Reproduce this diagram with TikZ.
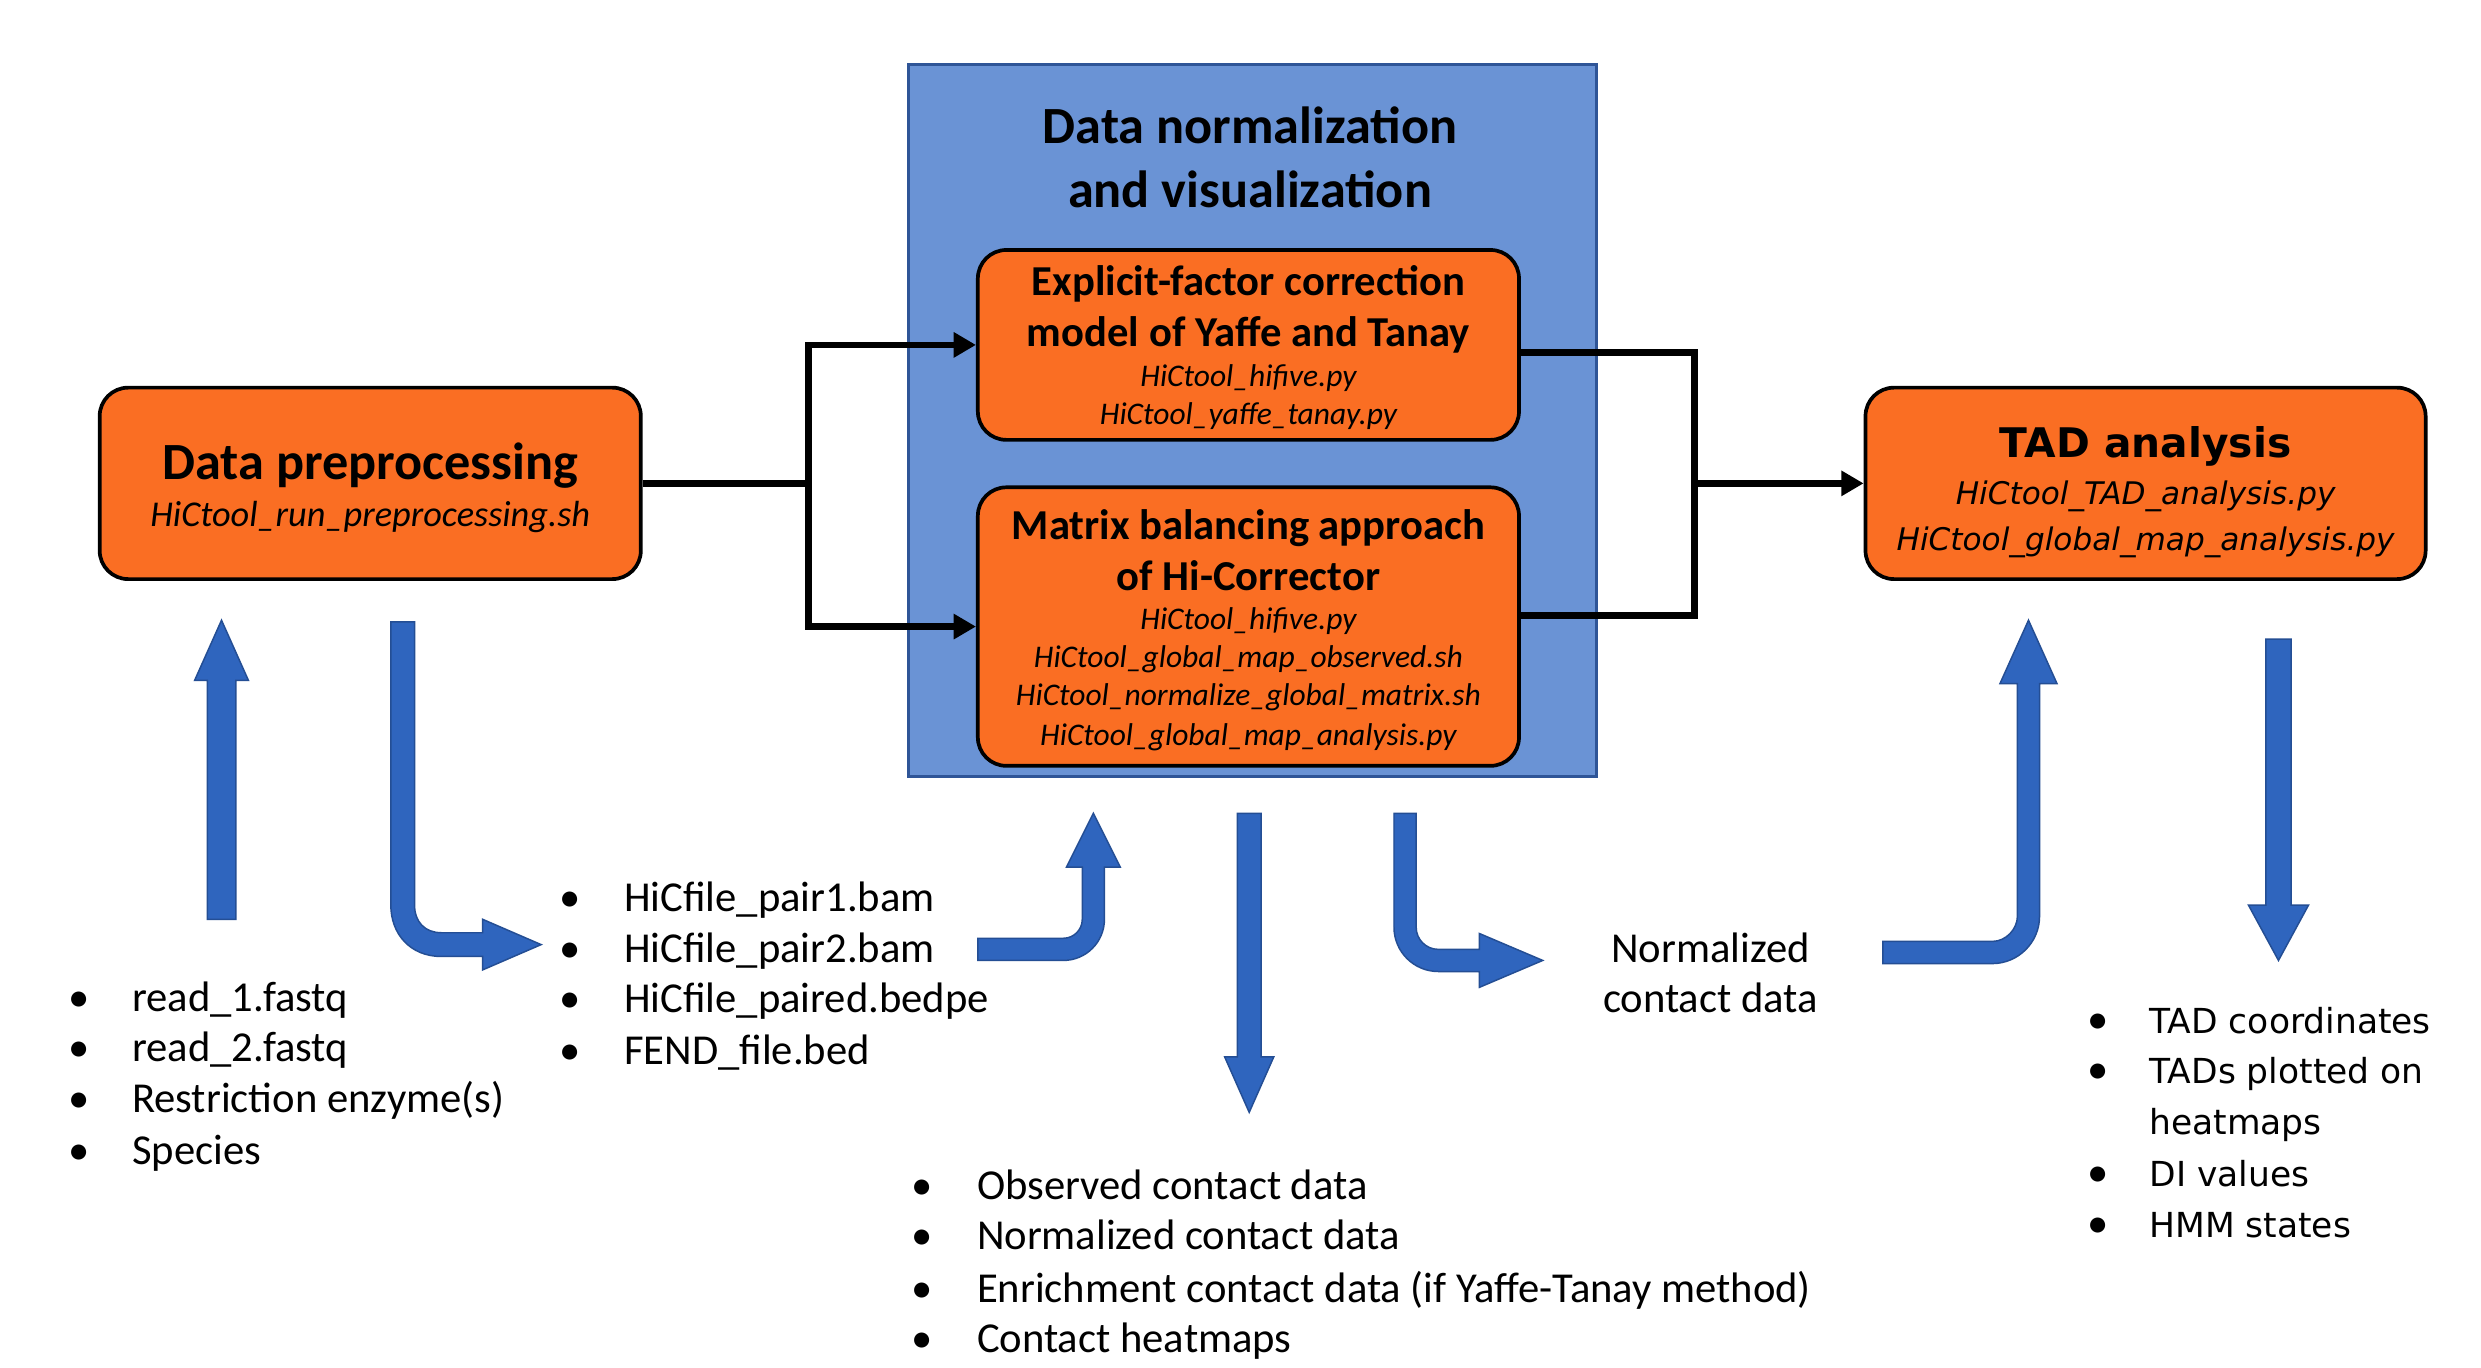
\documentclass[tikz,border=0pt]{standalone}
\usepackage{fontspec}
\setmainfont{Carlito}
\newfontfamily\dvsans{DejaVu Sans}
\usetikzlibrary{arrows.meta}
\definecolor{boxorange}{RGB}{250,110,35}
\definecolor{bgblue}{RGB}{106,147,213}
\definecolor{bgborder}{RGB}{47,85,151}
\definecolor{arrblue}{RGB}{47,101,190}
\definecolor{arrborder}{RGB}{36,78,148}
\begin{document}
\begin{tikzpicture}[x=0.015cm, y=-0.015cm,
  stepbox/.style={draw=black, line width=1pt, fill=boxorange, rounded corners=0.27cm, inner sep=0pt},
  conn/.style={line width=1.8pt},
  connarr/.style={line width=1.8pt, -{Triangle[length=6pt,width=6.5pt]}},
  barrow/.style={fill=arrblue, draw=arrborder, line width=0.4pt, line join=miter},
  txtbig/.style={anchor=base, font=\fontsize{14.1}{17}\selectfont\bfseries},
  txtmid/.style={anchor=base, font=\fontsize{11.5}{13.7}\selectfont\bfseries},
  txtit/.style={anchor=base, font=\fontsize{8.5}{10}\selectfont\itshape},
  txtitdp/.style={anchor=base, font=\fontsize{9.8}{12}\selectfont\itshape},
  tadtitle/.style={anchor=base, font=\dvsans\fontsize{11}{13}\selectfont\bfseries},
  tadit/.style={anchor=base, font=\dvsans\fontsize{8.4}{10}\selectfont\itshape},
  lst/.style={anchor=base west, font=\fontsize{11.5}{13.7}\selectfont, inner sep=0pt},
  bul/.style={anchor=base, font=\fontsize{11.5}{13.7}\selectfont, inner sep=0pt},
  tadlst/.style={anchor=base west, font=\dvsans\fontsize{9.3}{11}\selectfont, inner sep=0pt},
]
\fill[white] (0,0) rectangle (1568,864);
\useasboundingbox (0,0) rectangle (1568,864);

% blue background panel
\node[draw=bgborder, line width=0.8pt, fill=bgblue, minimum width=6.525cm, minimum height=6.75cm, inner sep=0pt] (panel) at (791.5,266) {};
\node[txtbig] (pt1) at (790,91) {Data normalization};
\node[txtbig] (pt2) at (790,131) {and visualization};

% boxes
\node[stepbox, minimum width=5.13cm, minimum height=1.815cm] (dp) at (234,305.5) {};
\node[stepbox, minimum width=5.13cm, minimum height=1.8cm] (exp) at (789,218) {};
\node[stepbox, minimum width=5.13cm, minimum height=2.64cm] (mat) at (789,396) {};
\node[stepbox, minimum width=5.31cm, minimum height=1.815cm] (tad) at (1356,305.5) {};

% box texts
\node[txtbig] (dpt) at (234,303) {Data preprocessing};
\node[txtitdp] (dpi) at (234,333) {HiCtool\_run\_preprocessing.sh};

\node[txtmid] (ext1) at (789,187) {Explicit-factor correction};
\node[txtmid] (ext2) at (789,219) {model of Yaffe and Tanay};
\node[txtit] (exi1) at (789,244) {HiCtool\_hifive.py};
\node[txtit] (exi2) at (789,268) {HiCtool\_yaffe\_tanay.py};

\node[txtmid] (mat1) at (789,341) {Matrix balancing approach};
\node[txtmid] (mat2) at (789,373) {of Hi-Corrector};
\node[txtit] (mai1) at (789,398) {HiCtool\_hifive.py};
\node[txtit] (mai2) at (789,422) {HiCtool\_global\_map\_observed.sh};
\node[txtit] (mai3) at (789,446) {HiCtool\_normalize\_global\_matrix.sh};
\node[txtit] (mai4) at (789,471) {HiCtool\_global\_map\_analysis.py};

\node[tadtitle] (tadt) at (1356,289) {TAD analysis};
\node[tadit] (tadi1) at (1356,319) {HiCtool\_TAD\_analysis.py};
\node[tadit] (tadi2) at (1356,348) {HiCtool\_global\_map\_analysis.py};

% black connectors
\coordinate (jl) at (511,305.5);
\coordinate (jr) at (1071,305.5);
\draw[conn] (dp.east) -- (jl);
\draw[connarr] (jl) |- (exp.west);
\draw[connarr] (jl) |- (mat.west);
\draw[conn] ([yshift=-0.075cm]exp.east) -| (jr);
\draw[conn] ([yshift=0.105cm]mat.east) -| (jr);
\draw[connarr] (jr) -- (tad.west);

% blue block arrows
\draw[barrow] (131,581) -- (131,430) -- (123,430) -- (140,392) -- (157,430) -- (149,430) -- (149,581) -- cycle;
\draw[barrow] (262,393) -- (247,393) -- (247,572) .. controls (247,590) and (259,604.5) .. (279,604.5) -- (305,604.5) -- (305,613) -- (342,597) -- (305,581) -- (305,589.5) -- (279,589.5) .. controls (268.72,589.5) and (262,582.78) .. (262,572) -- cycle;
\draw[barrow] (618,593) -- (672,593) .. controls (678.63,593) and (684,587.63) .. (684,581) -- (684,548) -- (674,548) -- (691,514) -- (708,548) -- (698,548) -- (698,581) .. controls (698,595.36) and (686.36,607) .. (672,607) -- (618,607) -- cycle;
\draw[barrow] (782,514) -- (797,514) -- (797,668) -- (805,668) -- (789.5,703) -- (774,668) -- (782,668) -- cycle;
\draw[barrow] (895,514) -- (881,514) -- (881,586) .. controls (881,601.46) and (893.54,614) .. (909,614) -- (935,614) -- (935,624) -- (975,607) -- (935,590) -- (935,600) -- (909,600) .. controls (901.27,600) and (895,593.73) .. (895,586) -- cycle;
\draw[barrow] (1190,595) -- (1259,595) .. controls (1267.84,595) and (1275,587.16) .. (1275,579) -- (1275,432) -- (1264,432) -- (1282,392) -- (1300,432) -- (1289,432) -- (1289,579) .. controls (1289,595.57) and (1275.57,609) .. (1259,609) -- (1190,609) -- cycle;
\draw[barrow] (1432,404) -- (1448,404) -- (1448,572) -- (1459,572) -- (1440,607) -- (1421,572) -- (1432,572) -- cycle;

% left list
\node[bul] (lb1) at (50,639) {•};
\node[bul] (lb2) at (50,671) {•};
\node[bul] (lb3) at (50,703) {•};
\node[bul] (lb4) at (50,736) {•};
\node[lst] (l1) at (83,639) {read\_1.fastq};
\node[lst] (l2) at (83,671) {read\_2.fastq};
\node[lst] (l3) at (83,703) {Restriction enzyme(s)};
\node[lst] (l4) at (83,736) {Species};

% middle list
\node[bul] (mb1) at (360,576) {•};
\node[bul] (mb2) at (360,608) {•};
\node[bul] (mb3) at (360,640) {•};
\node[bul] (mb4) at (360,673) {•};
\node[lst] (m1) at (394,576) {HiCfile\_pair1.bam};
\node[lst] (m2) at (394,608) {HiCfile\_pair2.bam};
\node[lst] (m3) at (394,640) {HiCfile\_paired.bedpe};
\node[lst] (m4) at (394,673) {FEND\_file.bed};

% bottom list
\node[bul] (bb1) at (583,758) {•};
\node[bul] (bb2) at (583,790) {•};
\node[bul] (bb3) at (583,823) {•};
\node[bul] (bb4) at (583,855) {•};
\node[lst] (b1) at (617,758) {Observed contact data};
\node[lst] (b2) at (617,790) {Normalized contact data};
\node[lst] (b3) at (617,823) {Enrichment contact data (if Yaffe-Tanay method)};
\node[lst] (b4) at (617,855) {Contact heatmaps};

% normalized contact data
\node[anchor=base, font=\fontsize{11.5}{13.7}\selectfont] (n1) at (1081,608) {Normalized};
\node[anchor=base, font=\fontsize{11.5}{13.7}\selectfont] (n2) at (1081,640) {contact data};

% TAD results list
\node[bul] (tb1) at (1326,653) {•};
\node[bul] (tb2) at (1326,685) {•};
\node[bul] (tb3) at (1326,750) {•};
\node[bul] (tb4) at (1326,782) {•};
\node[tadlst] (r1) at (1358,653) {TAD coordinates};
\node[tadlst] (r2) at (1358,685) {TADs plotted on};
\node[tadlst] (r3) at (1358,717) {heatmaps};
\node[tadlst] (r4) at (1358,750) {DI values};
\node[tadlst] (r5) at (1358,782) {HMM states};
\end{tikzpicture}
\end{document}
